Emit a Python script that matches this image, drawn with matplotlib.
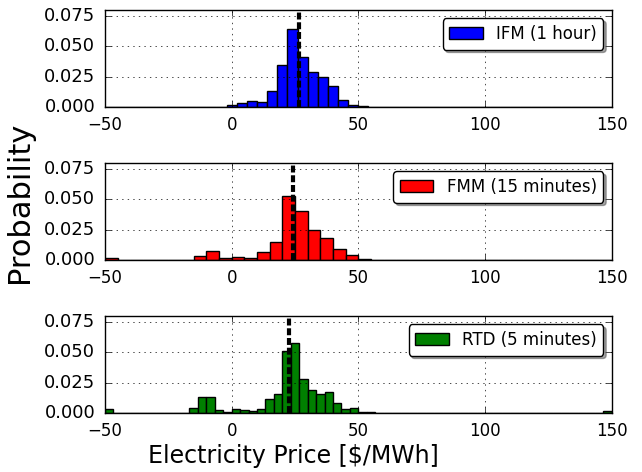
import numpy as np
import matplotlib
matplotlib.use("Agg")
import matplotlib.pyplot as plt

plt.style.use('classic')

# bin edges used by each market (density histograms)
ifm_edges = np.linspace(-50, 150, 51)
fmm_edges = np.linspace(-50, 150, 41)
rtd_edges = np.linspace(-50, 150, 61)

# probability density per bin
ifm_prob = [0, 0, 0, 0, 0, 0, 0, 0, 0, 0, 0, 0,
            0.0019, 0.0032, 0.0053, 0.0043, 0.0135, 0.0348, 0.0647, 0.0410,
            0.0290, 0.0245, 0.0174, 0.0058, 0.0022, 0.0008, 0.0004, 0.0002,
            0.0003, 0.0001, 0.0001, 0.0002,
            0, 0, 0, 0, 0, 0, 0, 0, 0, 0, 0, 0, 0, 0, 0, 0, 0, 0]

fmm_prob = [0.0016, 0.0002, 0, 0, 0.0001, 0.0002, 0.0003, 0.0038, 0.0075, 0.0015,
            0.0025, 0.0018, 0.0067, 0.0147, 0.0530, 0.0402, 0.0245, 0.0183, 0.0092, 0.0042,
            0.0009, 0.0002, 0, 0, 0, 0, 0, 0, 0, 0,
            0, 0, 0, 0, 0, 0, 0, 0, 0, 0]

rtd_prob = [0.0033, 0, 0, 0, 0, 0, 0, 0, 0.0003, 0.0005,
            0.0040, 0.0130, 0.0130, 0.0024, 0.0008, 0.0035, 0.0030, 0.0015, 0.0032, 0.0120,
            0.0160, 0.0514, 0.0576, 0.0284, 0.0193, 0.0155, 0.0171, 0.0082, 0.0038, 0.0042,
            0.0014, 0.0008, 0.0005, 0.0004, 0.0005, 0.0003, 0.0003, 0.0005, 0.0002, 0.0001,
            0, 0, 0, 0, 0, 0, 0, 0, 0, 0,
            0, 0, 0, 0, 0, 0, 0, 0, 0, 0.0017]

# mean prices (dashed lines)
ifm_mean = 26.6
fmm_mean = 24.2
rtd_mean = 22.6

panels = [
    (ifm_edges, ifm_prob, ifm_mean, 'blue', 'IFM (1 hour)'),
    (fmm_edges, fmm_prob, fmm_mean, 'red', 'FMM (15 minutes)'),
    (rtd_edges, rtd_prob, rtd_mean, 'green', 'RTD (5 minutes)'),
]

fig, axes = plt.subplots(3, 1, figsize=(6.42, 4.72), facecolor='white')
plt.subplots_adjust(left=0.1636, right=0.9528, bottom=0.1244, top=0.9788, hspace=0.573)

for ax, (edges, prob, mean, color, label) in zip(axes, panels):
    ax.hist(edges[:-1], bins=edges, weights=prob, color=color,
            edgecolor='black', linewidth=1.0, label=label)
    ax.axvline(mean, color='black', linestyle=(0, (5, 2)), linewidth=3)
    ax.set_xlim(-50, 150)
    ax.set_ylim(0, 0.08)
    ax.set_xticks([-50, 0, 50, 100, 150])
    ax.set_yticks([0, 0.025, 0.05, 0.075])
    ax.set_yticklabels(['0.000', '0.025', '0.050', '0.075'])
    ax.tick_params(axis='x', labelsize=12, pad=6)
    ax.tick_params(axis='y', labelsize=13, pad=7)
    ax.grid(True)
    ax.legend(loc='upper right', fontsize=12, fancybox=True, shadow=True)

fig.text(0.031, 0.572, 'Probability', rotation=90, fontsize=22,
         ha='center', va='center')
fig.text(0.457, 0.034, 'Electricity Price [$/MWh]', fontsize=17,
         ha='center', va='center')

fig.savefig('out.png', dpi=100, facecolor='white')
